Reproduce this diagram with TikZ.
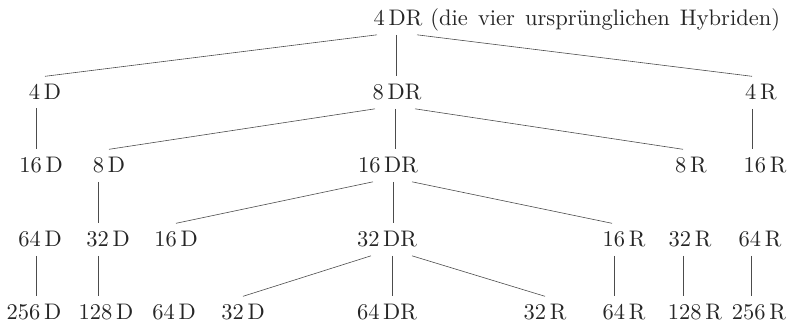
\documentclass[tikz,border=0pt]{standalone}
\usepackage{tikz}
\usepackage{xcolor}

\begin{document}
\begin{tikzpicture}[x=1pt, y=-1pt,
    every node/.style={anchor=base, inner sep=3.5pt, text=black!85,
                       scale=2.25, transform shape},
    link/.style={draw=black!70, line width=0.6pt}]
    \useasboundingbox (0,0) rectangle (792,328);

    % Nodes
    % Row 0
    \node (r0) at (398,26) {4\,DR};
    \node[anchor=base west, inner sep=0pt] (note) at (430,26)
        {\spaceskip=4.5pt (die vier urspr\"unglichen Hybriden)};
    % Row 1
    \node (d4)  at (45,100)  {4\,D};
    \node (dr8) at (397,100) {8\,DR};
    \node (r4)  at (761,100) {4\,R};
    % Row 2
    \node (d16a) at (41,173)  {16\,D};
    \node (d8)   at (109,173) {8\,D};
    \node (dr16) at (388,173) {16\,DR};
    \node (r8)   at (691,173) {8\,R};
    \node (r16a) at (765,173) {16\,R};
    % Row 3
    \node (d64a) at (40,247)  {64\,D};
    \node (d32a) at (108,247) {32\,D};
    \node (d16b) at (176,247) {16\,D};
    \node (dr32) at (387,247) {32\,DR};
    \node (r16b) at (624,247) {16\,R};
    \node (r32a) at (690,247) {32\,R};
    \node (r64a) at (760,247) {64\,R};
    % Row 4
    \node (d256) at (34,320)  {256\,D};
    \node (d128) at (106,320) {128\,D};
    \node (d64b) at (174,320) {64\,D};
    \node (d32b) at (243,320) {32\,D};
    \node (dr64) at (387,320) {64\,DR};
    \node (r32b) at (545,320) {32\,R};
    \node (r64b) at (624,320) {64\,R};
    \node (r128) at (695,320) {128\,R};
    \node (r256) at (759,320) {256\,R};

    % Lines from 4 DR
    \draw[link] ([xshift=-21pt]r0.south) -- (d4.north);
    \draw[link] ([xshift=-2pt]r0.south) -- ([xshift=-2pt]r0.south |- dr8.north);
    \draw[link] ([xshift=19pt]r0.south) -- ([xshift=-9pt]r4.north);

    % Lines from row 1
    \draw[link] ([xshift=-9pt]d4.south) -- ([xshift=-9pt]d4.south |- d16a.north);
    \draw[link] ([xshift=-22pt]dr8.south) -- (d8.north);
    \draw[link] ([xshift=-2pt]dr8.south) -- ([xshift=-2pt]dr8.south |- dr16.north);
    \draw[link] ([xshift=18pt]dr8.south) -- ([xshift=-8pt]r8.north);
    \draw[link] ([xshift=-9pt]r4.south) -- ([xshift=-9pt]r4.south |- r16a.north);

    % Lines from row 2
    \draw[link] ([xshift=-11pt]d8.south) -- ([xshift=-11pt]d8.south |- d32a.north);
    \draw[link] ([xshift=-15pt]dr16.south) -- (d16b.north);
    \draw[link] ([xshift=5pt]dr16.south) -- ([xshift=5pt]dr16.south |- dr32.north);
    \draw[link] ([xshift=24pt]dr16.south) -- ([xshift=-12pt]r16b.north);

    % Lines from row 3
    \draw[link] ([xshift=-4pt]d64a.south) -- ([xshift=-4pt]d64a.south |- d256.north);
    \draw[link] ([xshift=-10pt]d32a.south) -- ([xshift=-10pt]d32a.south |- d128.north);
    \draw[link] ([xshift=-16pt]dr32.south) -- (d32b.north);
    \draw[link] ([xshift=5pt]dr32.south) -- ([xshift=5pt]dr32.south |- dr64.north);
    \draw[link] ([xshift=25pt]dr32.south) -- (r32b.north);
    \draw[link] ([xshift=-10pt]r16b.south) -- ([xshift=-10pt]r16b.south |- r64b.north);
    \draw[link] ([xshift=-7pt]r32a.south) -- ([xshift=-7pt]r32a.south |- r128.north);
    \draw[link] ([xshift=-9pt]r64a.south) -- ([xshift=-9pt]r64a.south |- r256.north);
\end{tikzpicture}
\end{document}
